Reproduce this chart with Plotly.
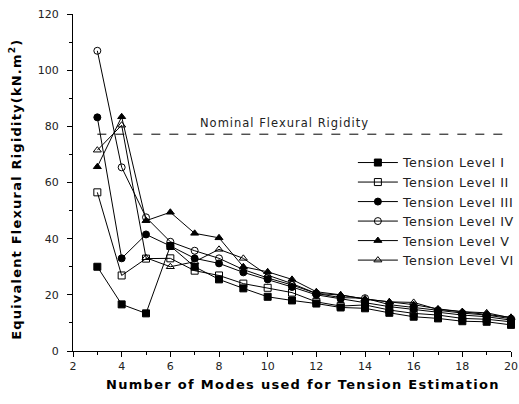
import plotly.graph_objects as go

modes = list(range(3, 21))
level_I = [30.0, 16.6, 13.4, 37.4, 30.0, 25.5, 22.3, 19.3, 18.0, 16.9, 15.5, 15.2, 13.6, 12.2, 11.6, 10.6, 10.4, 9.3]
level_II = [56.5, 26.9, 32.9, 33.0, 28.6, 26.9, 24.0, 22.5, 20.8, 17.5, 16.0, 16.4, 14.6, 13.4, 12.8, 11.6, 11.3, 10.4]
level_III = [83.2, 33.0, 41.5, 37.4, 33.0, 31.2, 28.0, 25.5, 22.8, 20.0, 18.5, 17.2, 15.8, 14.8, 14.0, 12.8, 12.2, 11.0]
level_IV = [106.9, 65.4, 47.6, 38.9, 35.7, 33.0, 29.0, 26.0, 23.5, 20.5, 19.0, 18.8, 16.5, 15.5, 14.5, 13.5, 12.8, 11.5]
level_V = [65.6, 83.4, 46.4, 49.4, 41.9, 40.3, 30.0, 28.2, 25.5, 21.1, 20.0, 18.5, 17.5, 16.5, 15.0, 14.0, 13.2, 12.0]
level_VI = [71.5, 80.4, 33.2, 30.0, 31.8, 36.2, 33.0, 27.0, 24.0, 20.5, 19.9, 18.5, 17.5, 17.3, 14.8, 14.0, 13.6, 11.8]

nominal_x = [3, 20]
nominal_y = [77.2, 77.2]

series = [
    ("Tension Level I", level_I, "square"),
    ("Tension Level II", level_II, "square-open"),
    ("Tension Level III", level_III, "circle"),
    ("Tension Level IV", level_IV, "circle-open"),
    ("Tension Level V", level_V, "triangle-up"),
    ("Tension Level VI", level_VI, "triangle-up-open"),
]

FONT = "DejaVu Sans"


def spaced(t, px):
    return f'<span style="letter-spacing:{px}px">{t}</span>'


fig = go.Figure()
fig.add_trace(go.Scatter(x=nominal_x, y=nominal_y, mode="lines",
                         line=dict(color="black", width=1, dash="dash"),
                         showlegend=False, hoverinfo="skip"))
for name, vals, sym in series:
    fig.add_trace(go.Scatter(
        x=modes, y=vals, name=spaced(name, 0.6), mode="lines+markers",
        line=dict(color="black", width=1),
        marker=dict(symbol=sym, size=7, color="black",
                    line=dict(color="black", width=1)),
        cliponaxis=False,
    ))

fig.add_annotation(x=10.7, y=77.2, text=spaced("Nominal Flexural Rigidity", 1),
                   showarrow=False, yshift=11,
                   font=dict(family=FONT, size=11.5, color="#222"))

# axis titles as annotations so they can sit where the reference has them
fig.add_annotation(xref="paper", yref="paper", x=0.526, y=-0.1, yanchor="middle",
                   text="<b>" + spaced("Number of Modes used for Tension Estimation", 1.3) + "</b>",
                   showarrow=False, font=dict(family=FONT, size=13, color="black"))
fig.add_annotation(xref="paper", yref="paper", x=-0.131, y=0.48, xanchor="center",
                   textangle=-90,
                   text="<b>" + spaced("Equivalent Flexural Rigidity(kN.m<sup>2</sup>)", 1.2) + "</b>",
                   showarrow=False, font=dict(family=FONT, size=13, color="black"))

fig.update_layout(
    width=519, height=404,
    margin=dict(l=73, r=8, t=14, b=53, autoexpand=False),
    paper_bgcolor="white", plot_bgcolor="white",
    font=dict(family=FONT, size=11, color="#222"),
    legend=dict(x=0.639, y=0.603, xanchor="left", yanchor="top",
                bgcolor="rgba(0,0,0,0)", font=dict(family=FONT, size=12.7, color="#222"),
                tracegroupgap=0, itemwidth=40),
    xaxis=dict(range=[2, 20], tickvals=list(range(2, 21, 2)),
               showline=True, linecolor="black", linewidth=1,
               ticks="outside", ticklen=5, tickcolor="black",
               minor=dict(tickvals=list(range(3, 21, 2)), ticks="outside", ticklen=3, tickcolor="black"),
               showgrid=False, zeroline=False, mirror=False, automargin=False,
               ticklabeloverflow="allow",
               tickfont=dict(family=FONT, size=11, color="#222")),
    yaxis=dict(range=[0, 120], tickvals=list(range(0, 121, 20)),
               showline=True, linecolor="black", linewidth=1,
               ticks="outside", ticklen=5, tickcolor="black",
               minor=dict(tickvals=list(range(10, 120, 20)), ticks="outside", ticklen=3, tickcolor="black"),
               showgrid=False, zeroline=False, automargin=False,
               ticklabeloverflow="allow", ticklabelstandoff=6,
               tickfont=dict(family=FONT, size=11, color="#222")),
)

fig.write_html("out.html", config={"displayModeBar": False},
               post_script="document.body.style.margin='0';document.body.style.overflow='hidden';")
